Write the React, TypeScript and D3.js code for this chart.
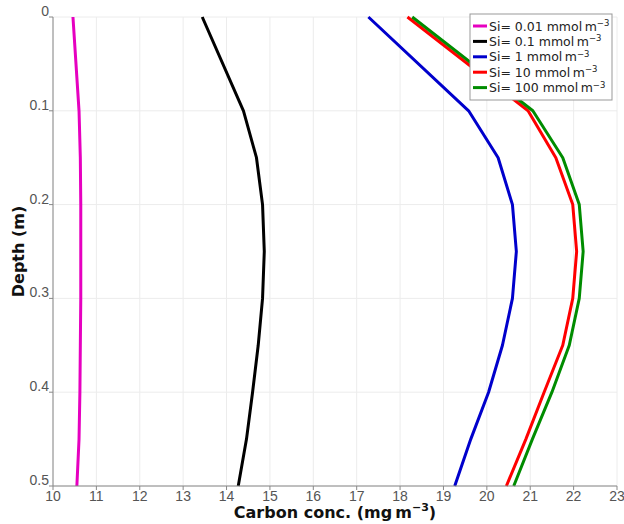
import React from "react";
import * as d3 from "d3";

const depths = [0, 0.1, 0.15, 0.2, 0.25, 0.3, 0.35, 0.4, 0.45, 0.5];
const siLabels = ["0.01", "0.1", "1", "10", "100"];
const seriesColors = ["#e600c0", "#000000", "#0000cc", "#ff0000", "#008c00"];
const carbonSi001 = [10.46, 10.6, 10.63, 10.64, 10.64, 10.64, 10.63, 10.62, 10.6, 10.55];
const carbonSi01 = [13.44, 14.39, 14.69, 14.83, 14.87, 14.83, 14.73, 14.6, 14.46, 14.27];
const carbonSi1 = [17.27, 19.58, 20.26, 20.59, 20.68, 20.59, 20.36, 20.04, 19.63, 19.26];
const carbonSi10 = [18.17, 20.95, 21.59, 21.98, 22.07, 21.98, 21.75, 21.32, 20.9, 20.45];
const carbonSi100 = [18.28, 21.06, 21.75, 22.13, 22.22, 22.13, 21.9, 21.5, 21.05, 20.62];
const allSeries = [carbonSi001, carbonSi01, carbonSi1, carbonSi10, carbonSi100];
const xTicks = d3.range(10, 24, 1);
const yTicks = [0, 0.1, 0.2, 0.3, 0.4, 0.5];

const W = 624;
const H = 524;
const M = { left: 53, right: 7, top: 17, bottom: 38 };
const FONT = "DejaVu Sans, sans-serif";
const TICK_FONT = "Liberation Sans, sans-serif";

export default function App() {
  const x = d3.scaleLinear().domain([10, 23]).range([M.left, W - M.right]);
  const y = d3.scaleLinear().domain([0, 0.5]).range([M.top, H - M.bottom]);
  const line = d3
    .line<[number, number]>()
    .x((d) => x(d[0]))
    .y((d) => y(d[1]));

  const legX = 470;
  const legY = 14;
  const legW = 142;
  const rowH = 15.4;

  return (
    <svg
      width={W}
      height={H}
      style={{ position: "absolute", left: 0, top: 0, background: "#fff" }}
      fontFamily={FONT}
    >
      {xTicks.map((t) => (
        <line key={"gx" + t} x1={x(t)} x2={x(t)} y1={y(0)} y2={y(0.5)} stroke="#ececec" strokeWidth={1} />
      ))}
      {yTicks.map((t) => (
        <line key={"gy" + t} x1={x(10)} x2={x(23)} y1={y(t)} y2={y(t)} stroke="#ececec" strokeWidth={1} />
      ))}
      {allSeries.map((s, i) => (
        <path
          key={"s" + i}
          d={line(s.map((v, j) => [v, depths[j]] as [number, number])) || ""}
          fill="none"
          stroke={seriesColors[i]}
          strokeWidth={3}
          strokeLinejoin="round"
        />
      ))}
      <line x1={x(10)} x2={x(10)} y1={y(0)} y2={y(0.5)} stroke="#888" strokeWidth={1} />
      <line x1={x(10)} x2={x(23)} y1={y(0.5)} y2={y(0.5)} stroke="#888" strokeWidth={1} />
      {yTicks.map((t) => (
        <g key={"yt" + t}>
          <line x1={x(10) - 4} x2={x(10)} y1={y(t)} y2={y(t)} stroke="#888" />
          <text x={x(10) - 4} y={y(t) - 1} textAnchor="end" fontSize={14} fill="#555" fontFamily={TICK_FONT}>
            {String(t)}
          </text>
        </g>
      ))}
      {xTicks.map((t) => (
        <g key={"xt" + t}>
          <line x1={x(t)} x2={x(t)} y1={y(0.5)} y2={y(0.5) + 4} stroke="#888" />
          <text x={x(t)} y={y(0.5) + 15} textAnchor="middle" fontSize={14} fill="#555" fontFamily={TICK_FONT}>
            {String(t)}
          </text>
        </g>
      ))}
      <text x={335} y={518} textAnchor="middle" fontSize={16} fontWeight="bold" fill="#111">
        Carbon conc. (mg{"\u2009"}m
        <tspan dy={-7} fontSize={11}>−3</tspan>
        <tspan dy={7}>)</tspan>
      </text>
      <text
        transform={`translate(24, ${(y(0) + y(0.5)) / 2}) rotate(-90)`}
        textAnchor="middle"
        fontSize={16}
        fontWeight="bold"
        fill="#111"
      >
        Depth (m)
      </text>
      <rect x={legX} y={legY} width={legW} height={rowH * 5 + 9} fill="#fff" stroke="#999" strokeWidth={1} />
      {siLabels.map((lab, i) => {
        const cy = legY + 12 + i * rowH;
        return (
          <g key={"lg" + i}>
            <line x1={legX + 3} x2={legX + 17} y1={cy} y2={cy} stroke={seriesColors[i]} strokeWidth={3} />
            <text x={legX + 19} y={cy + 4.5} fontSize={12.5} fill="#222">
              Si= {lab} mmol{"\u2009"}m
              <tspan dy={-4.5} fontSize={8.5}>−3</tspan>
            </text>
          </g>
        );
      })}
    </svg>
  );
}
